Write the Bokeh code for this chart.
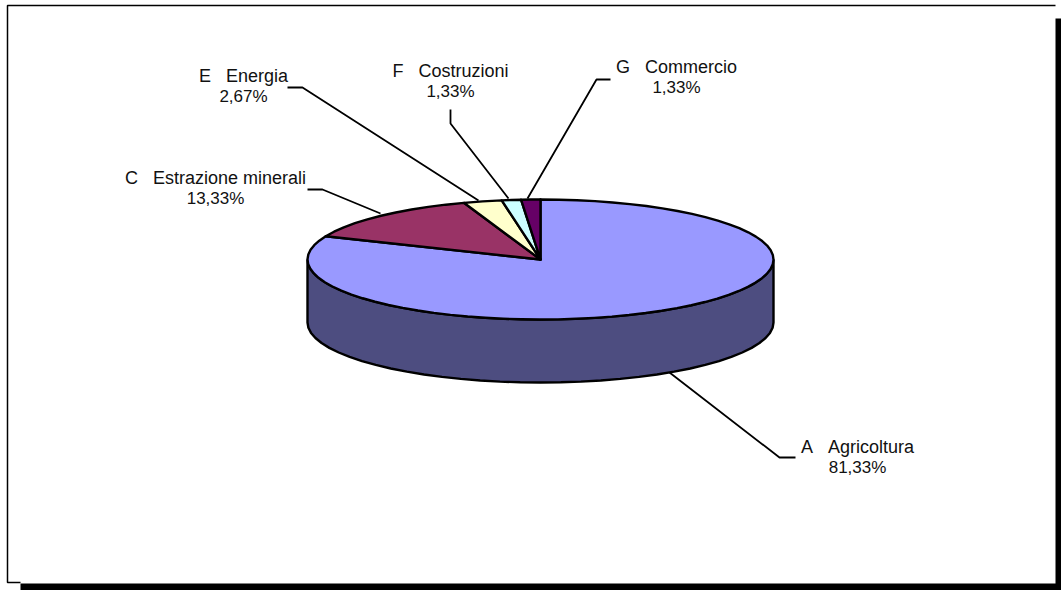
import math
from bokeh.plotting import figure
from bokeh.models import Range1d
from bokeh.core.properties import value
from bokeh.embed import file_html
from bokeh.resources import INLINE

codes = ["A", "C", "E", "F", "G"]
names = ["Agricoltura", "Estrazione minerali", "Energia", "Costruzioni", "Commercio"]
values = [81.33, 13.33, 2.67, 1.33, 1.33]
top_colors = ["#9999FF", "#993366", "#FFFFCC", "#CCFFFF", "#660066"]
side_color = "#4D4D80"

# layout in page pixels
CX, CY, RX, RY, DEPTH = 540, 259, 233, 60, 63
label_x = [857, 215, 243, 450, 676]
label_y = [446, 177, 75, 70, 66]
LINE_GAP = 22
leaders = [
    ([795, 779, 669], [457, 457, 372]),
    ([307, 322, 380], [189, 189, 213]),
    ([287, 302, 478], [87, 87, 200]),
    ([450, 450, 508], [109, 123, 198]),
    ([610, 596, 527], [79, 79, 198]),
]

W, H = 1061, 590
p = figure(width=W, height=H, x_range=Range1d(0, W), y_range=Range1d(H, 0),
           output_backend="svg", toolbar_location=None, min_border=0,
           outline_line_color=None, background_fill_color="white",
           border_fill_color="white", margin=(0, 0, 0, 0))
p.xaxis.visible = False
p.yaxis.visible = False
p.grid.visible = False

# frame and drop shadow
p.quad(left=[20], right=[1061], top=[583], bottom=[590], fill_color="black", line_color=None)
p.quad(left=[1055], right=[1061], top=[18], bottom=[590], fill_color="black", line_color=None)
p.line([1055, 7, 7, 20], [5, 5, 582, 582], line_color="black", line_width=1.5)

# pie side, front half of the rim
def rim(a0, a1, dy=0.0, n=160):
    pts = [a0 + (a1 - a0) * i / n for i in range(n + 1)]
    return ([CX + RX * math.sin(t) for t in pts],
            [CY + dy - RY * math.cos(t) for t in pts])

xa, ya = rim(math.pi / 2, 3 * math.pi / 2, n=36)
xb, yb = rim(math.pi / 2, 3 * math.pi / 2, DEPTH, n=36)
p.patch(xa + xb[::-1], ya + yb[::-1], fill_color=side_color, line_color="black", line_width=2.4)

# pie top: slices follow the values clockwise from 12 o'clock
total = sum(values)
start = 0.0
for v, c in zip(values, top_colors):
    end = start + v / total * 2 * math.pi
    x, y = rim(start, end, n=max(2, int(v * 0.8)))
    p.patch([CX] + x, [CY] + y, fill_color=c, line_color="black", line_width=2.4, line_join="round")
    start = end

# leaders
for lx, ly in leaders:
    p.line(lx, ly, line_color="black", line_width=1.8)

# labels
def pct(v):
    return f"{v:.2f}%".replace(".", ",")

l1 = [f"{c}\u00a0\u00a0\u00a0{n}" for c, n in zip(codes, names)]
l2 = [pct(v) for v in values]
p.text(label_x, label_y, text=l1, text_font=value("Liberation Sans"), text_font_size="18px",
       text_align="center", text_baseline="middle", text_color="#111111")
p.text(label_x, [y + LINE_GAP - 1 for y in label_y], text=l2, text_font=value("Liberation Sans"),
       text_font_size="17px", text_align="center", text_baseline="middle", text_color="#111111")

open("out.html", "w").write(file_html(p, INLINE))
